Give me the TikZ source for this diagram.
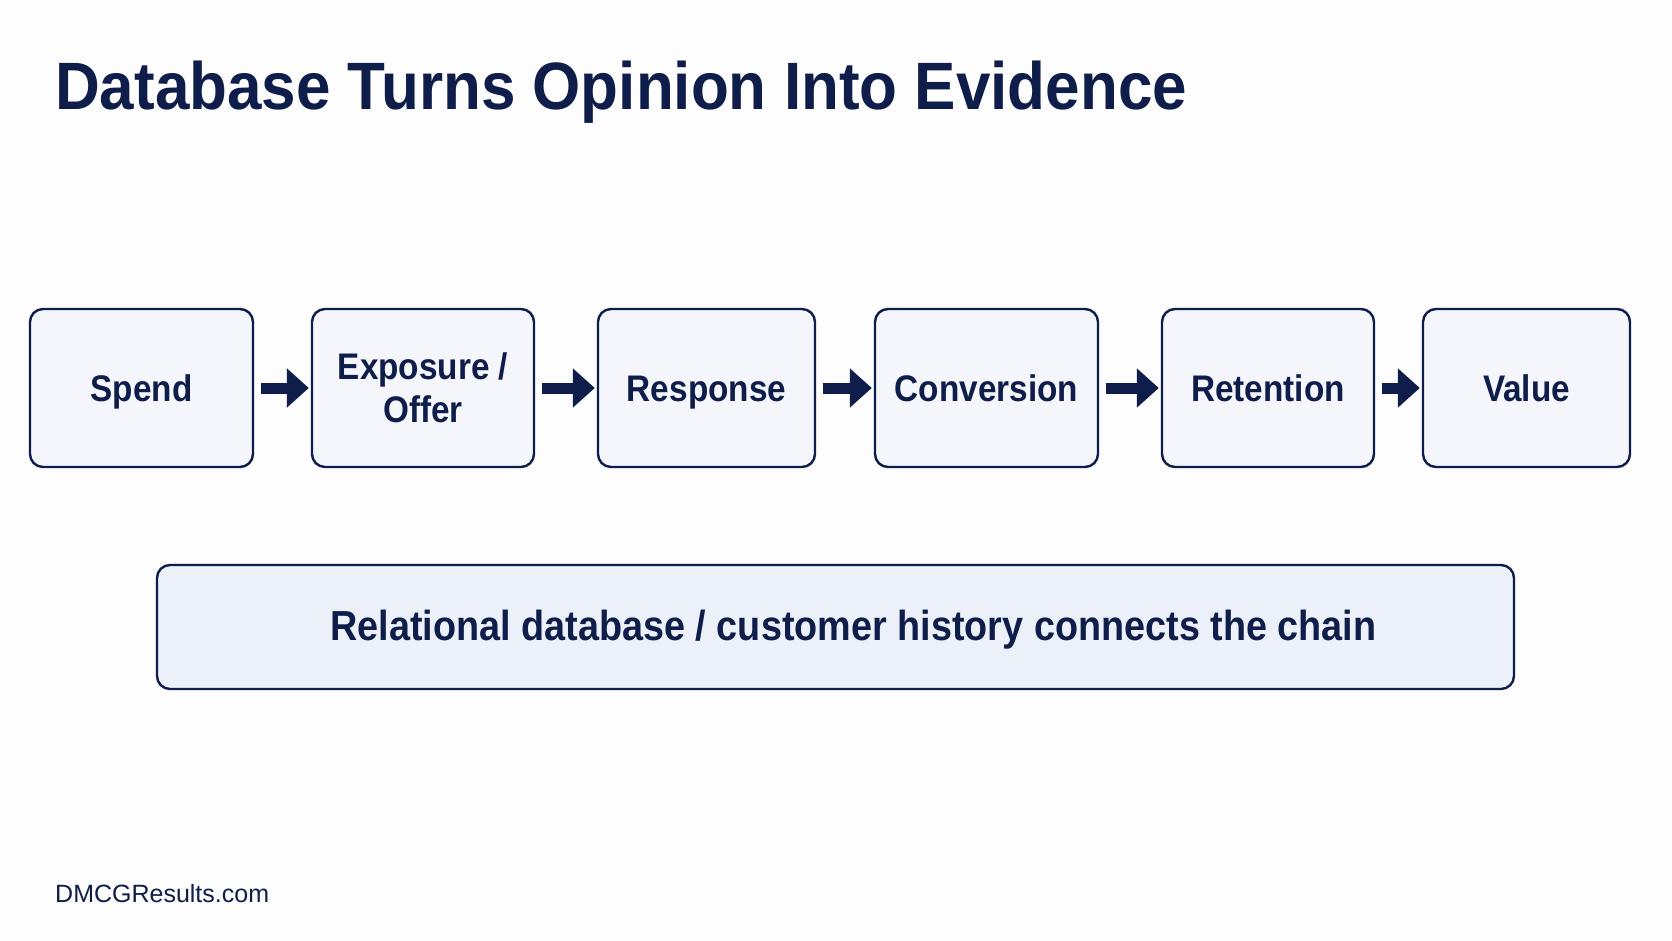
\documentclass[tikz,border=0pt]{standalone}
\usepackage{fontspec}
\setmainfont{Liberation Sans}
\newfontfamily\boldcond[FakeStretch=0.9]{Liberation Sans Bold}
\newfontfamily\titlecond[FakeStretch=0.925]{Liberation Sans Bold}
\usetikzlibrary{arrows.meta}
\definecolor{navy}{HTML}{0F1D4A}
\definecolor{boxfill}{HTML}{F4F6FB}
\definecolor{busfill}{HTML}{ECF1F9}
\definecolor{bg}{HTML}{FDFDFE}
\tikzset{
  stagebox/.style={draw=navy, line width=2.4pt, fill=boxfill, rounded corners=13pt,
    minimum height=158pt, inner sep=0pt, align=center, text=navy,
    font=\boldcond\fontsize{37}{43}\selectfont},
  oneline/.style={text height=27pt, text depth=0pt},
  busbox/.style={draw=navy, line width=2.4pt, fill=busfill, rounded corners=13pt,
    minimum width=1357pt, minimum height=124pt, inner sep=0pt},
  flowarrow/.style={draw=navy, line width=11pt, -{Triangle[length=22pt,width=38pt]}, shorten <=7pt, shorten >=2pt}
}
\begin{document}
\begin{tikzpicture}[x=1pt,y=-1pt]
\useasboundingbox[fill=bg] (0,0) rectangle (1672,941);
\node[anchor=base west, inner sep=0pt, text=navy, font=\titlecond\fontsize{67}{67}\selectfont] (title) at (55,110) {Database Turns Opinion Into Evidence};
\node[stagebox, oneline, minimum width=223pt] (spend) at (141.5,388) {Spend};
\node[stagebox, minimum width=222pt] (expo) at (423,388) {Exposure /\\Offer};
\node[stagebox, oneline, minimum width=217pt] (resp) at (706.5,388) {Response};
\node[stagebox, oneline, minimum width=223pt] (conv) at (986.5,388) {Conversion};
\node[stagebox, oneline, minimum width=212pt] (ret) at (1268,388) {Retention};
\node[stagebox, oneline, minimum width=207pt] (val) at (1526.5,388) {Value};
\draw[flowarrow] (spend.east) -- (expo.west);
\draw[flowarrow] (expo.east) -- (resp.west);
\draw[flowarrow] (resp.east) -- (conv.west);
\draw[flowarrow] (conv.east) -- (ret.west);
\draw[flowarrow] (ret.east) -- (val.west);
\node[busbox] (bus) at (835.5,627) {};
\node[text=navy, font=\boldcond\fontsize{42}{42}\selectfont, inner sep=0pt, text height=30pt, text depth=0pt] (bustext) at ([xshift=18pt,yshift=2pt]bus.center) {Relational database / customer history connects the chain};
\node[anchor=base west, inner sep=0pt, text=navy, font=\fontsize{25}{25}\selectfont] (footer) at (55,902) {DMCGResults.com};
\end{tikzpicture}
\end{document}
